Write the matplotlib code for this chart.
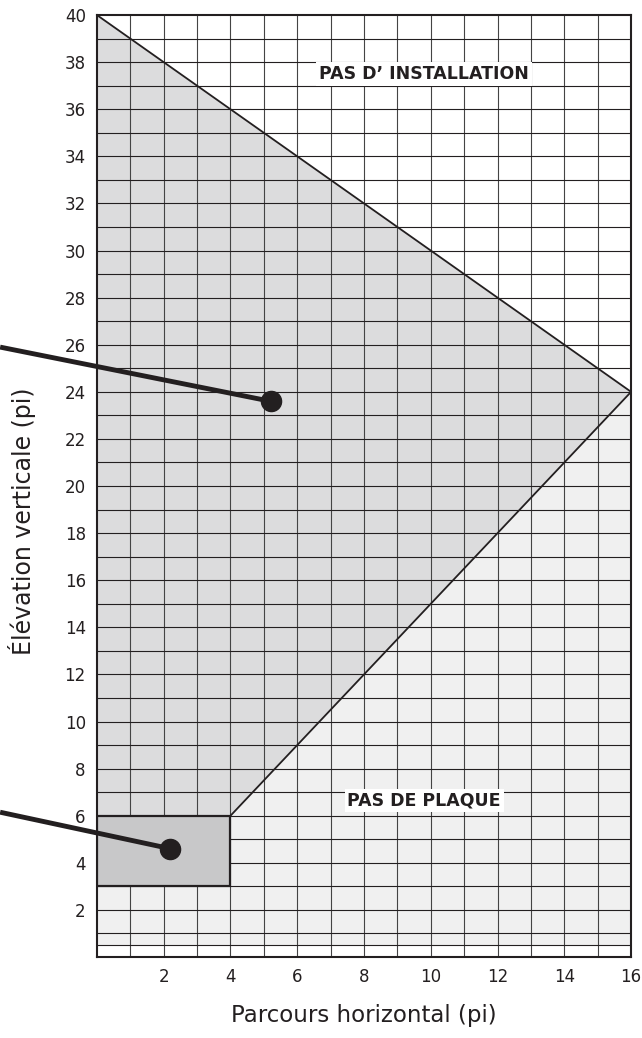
import numpy as np
import matplotlib.pyplot as plt
from matplotlib.patches import Polygon, Rectangle

# zones (pi)
upper_line_x = [0, 16]
upper_line_y = [40, 24]
lower_line_x = [4, 16]
lower_line_y = [6, 24]
plate_x = [0, 4]
plate_y = [3, 6]
floor_y = 0.5

# callout points (dot, start of leader outside the axes)
dot_x = [5.2, 2.2]
dot_y = [23.6, 4.6]
lead_x = [-2.9, -2.9]
lead_y = [25.9, 6.15]

xticks = [2, 4, 6, 8, 10, 12, 14, 16]
yticks = list(range(2, 41, 2))

fig = plt.figure(figsize=(6.42, 10.38), dpi=100)
ax = fig.add_axes([0.151, 0.078, 0.832, 0.9075])
ax.set_xlim(0, 16)
ax.set_ylim(0, 40)

# light area (below the diagonal)
ax.add_patch(Polygon([(0, floor_y), (16, floor_y), (16, 24), (4, 6), (0, 6)],
                     closed=True, facecolor='#f0f0f0', edgecolor='none', zorder=0))
# medium area (allowed zone)
ax.add_patch(Polygon([(0, 40), (16, 24), (4, 6), (0, 6)],
                     closed=True, facecolor='#dcdcdd', edgecolor='none', zorder=0))
# plate rectangle
ax.add_patch(Rectangle((plate_x[0], plate_y[0]), plate_x[1] - plate_x[0], plate_y[1] - plate_y[0],
                       facecolor='#c8c8c9', edgecolor='#231f20', linewidth=1.6, zorder=3))

# grid
for gx in range(1, 16):
    ax.axvline(gx, color='#444444', linewidth=0.8, zorder=1)
for gy in range(1, 40):
    ax.axhline(gy, color='#231f20', linewidth=0.8, zorder=1)
ax.axhline(floor_y, color='#231f20', linewidth=0.8, zorder=1)

ax.plot(upper_line_x, upper_line_y, color='#231f20', linewidth=1.3, zorder=3)
ax.plot(lower_line_x, lower_line_y, color='#231f20', linewidth=1.3, zorder=3)

# callouts
for i in range(len(dot_x)):
    ax.plot([lead_x[i], dot_x[i]], [lead_y[i], dot_y[i]], color='#231f20',
            linewidth=3.5, solid_capstyle='butt', clip_on=False, zorder=5)
    ax.plot(dot_x[i], dot_y[i], 'o', color='#231f20', markersize=14.5, clip_on=False, zorder=6)

box = dict(facecolor='white', edgecolor='none', pad=2)
ax.text(9.8, 37.5, 'PAS D\u2019 INSTALLATION', ha='center', va='center', fontsize=12.5,
        fontweight='bold', color='#231f20', bbox=box, zorder=7)
ax.text(9.8, 6.65, 'PAS DE PLAQUE', ha='center', va='center', fontsize=12.5,
        fontweight='bold', color='#231f20', bbox=box, zorder=7)

ax.set_xticks(xticks)
ax.set_yticks(yticks)
ax.tick_params(length=0, labelsize=12, labelcolor='#231f20', pad=8)
for s in ax.spines.values():
    s.set_color('#231f20')
    s.set_linewidth(1.5)

ax.set_xlabel('Parcours horizontal (pi)', fontsize=16.5, color='#231f20')
ax.set_ylabel('\u00c9l\u00e9vation verticale (pi)', fontsize=17, color='#231f20')
ax.xaxis.set_label_coords(0.5, -0.05)
ax.yaxis.set_label_coords(-0.114, 0.463)

fig.savefig('out.png', dpi=100)
